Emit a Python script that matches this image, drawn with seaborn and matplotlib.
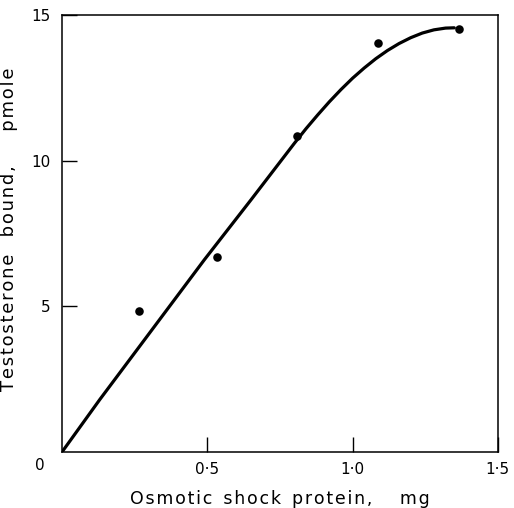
import numpy as np
import pandas as pd

import matplotlib
matplotlib.use("Agg")
import matplotlib.pyplot as plt
import seaborn as sns

# measured points
protein_mg = [0.265, 0.534, 0.81, 1.086, 1.366]
testosterone_pmole = [4.84, 6.69, 10.85, 14.04, 14.52]

# hand drawn fitted curve
curve_mg = [0.0, 0.13, 0.49, 0.65, 0.80, 0.84, 0.88, 0.92, 0.96, 1.00,
            1.04, 1.08, 1.12, 1.16, 1.20, 1.24, 1.28, 1.32, 1.35]
curve_pmole = [0.0, 1.8, 6.6, 8.65, 10.6, 11.1, 11.57, 12.02, 12.44, 12.83,
               13.18, 13.5, 13.78, 14.02, 14.22, 14.38, 14.49, 14.55, 14.56]

x_ticks = [0.5, 1.0, 1.5]
x_tick_labels = ["0·5", "1·0", "1·5"]
y_ticks = [5, 10, 15]
y_tick_labels = ["5", "10", "15"]


def spaced(text):
    """
    Widen letter spacing with hair spaces.
    """

    return "\u200a".join(text)


sns.set_style("ticks")
plt.rcParams["font.family"] = ["DejaVu Sans"]
plt.rcParams["text.color"] = "black"
plt.rcParams["axes.labelcolor"] = "black"
plt.rcParams["xtick.color"] = "black"
plt.rcParams["ytick.color"] = "black"

points = pd.DataFrame({"x": protein_mg, "y": testosterone_pmole})
curve = pd.DataFrame({"x": curve_mg, "y": curve_pmole})

fig = plt.figure(figsize=(5.14, 5.08), dpi=100)
ax = fig.add_axes([0.1206, 0.1102, 0.848, 0.8603])

sns.lineplot(
    data=curve,
    x="x",
    y="y",
    color="black",
    linewidth=2.3,
    sort=False,
    solid_joinstyle="round",
    solid_capstyle="round",
    ax=ax
)

sns.scatterplot(
    data=points,
    x="x",
    y="y",
    color="black",
    s=38,
    edgecolor="black",
    linewidth=0,
    zorder=3,
    ax=ax
)

ax.set_xlim(0, 1.5)
ax.set_ylim(0, 15)

ax.set_xticks(x_ticks)
ax.set_xticklabels(x_tick_labels, fontsize=11)
ax.set_yticks(y_ticks)
ax.set_yticklabels(y_tick_labels, fontsize=11)

ax.tick_params(direction="in", length=10.5, width=1, pad=7, colors="black")
ax.tick_params(axis="y", pad=8)

ax.text(
    -0.05, -0.013, "0",
    transform=ax.transAxes,
    ha="center", va="top", fontsize=11, color="black"
)

for spine in ax.spines.values():
    spine.set_linewidth(1.1)
    spine.set_color("black")

ax.set_xlabel(
    spaced("Osmotic") + "  " + spaced("shock") + "  "
    + spaced("protein,") + "     " + spaced("mg"),
    fontsize=12.5,
    color="black"
)
ax.xaxis.set_label_coords(0.5, -0.088)

ax.set_ylabel(
    spaced("Testosterone") + "   " + spaced("bound,") + "      "
    + spaced("pmole"),
    fontsize=13,
    color="black"
)
ax.yaxis.set_label_coords(-0.1, 0.51)

fig.savefig("out.png", dpi=100)
